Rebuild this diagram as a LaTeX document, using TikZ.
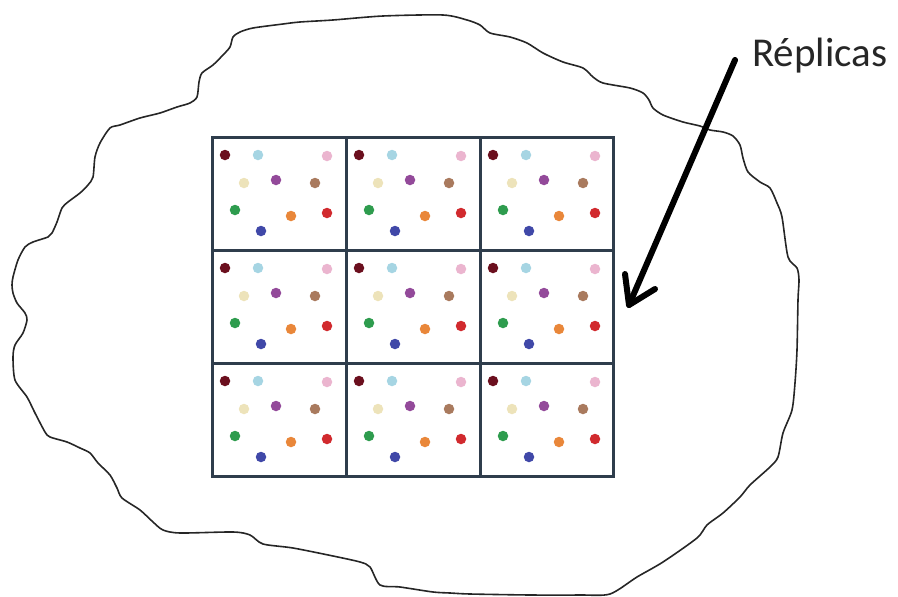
\documentclass[tikz,border=0pt]{standalone}
\usepackage{fontspec}
\setmainfont{Carlito}
\definecolor{gridc}{HTML}{2F3D4C}
\definecolor{cA}{HTML}{6B0F1E}
\definecolor{cB}{HTML}{A6D5E3}
\definecolor{cC}{HTML}{EBB5CF}
\definecolor{cD}{HTML}{EDE3BA}
\definecolor{cE}{HTML}{934A9A}
\definecolor{cF}{HTML}{A97A5E}
\definecolor{cG}{HTML}{2E9C4E}
\definecolor{cH}{HTML}{E9873A}
\definecolor{cI}{HTML}{D12A2E}
\definecolor{cJ}{HTML}{4048A8}
\tikzset{
  gridline/.style={draw=gridc, line width=3pt},
  blob/.style={draw=black!85, line width=1.6pt, line join=round},
  arrowstroke/.style={draw=black, line width=6pt, line cap=round, line join=round},
  dot/.style={circle, inner sep=0pt, minimum size=10.5pt},
  label/.style={font=\fontsize{41}{45}\selectfont, text=black!85, inner sep=0pt, anchor=base west}
}
\begin{document}
\begin{tikzpicture}[x=1pt,y=-1pt]
\useasboundingbox (0,0) rectangle (898,597);
% outline
\draw[blob] plot[smooth cycle, tension=0.45] coordinates {
(240,32) (253,28) (283,24) (300,22) (333,20) (383,16) (443,15) (467,20) (480,25) (490,33)
(510,37) (527,43) (543,53) (563,62) (583,68) (593,77) (603,83) (630,88) (643,93) (649,100)
(653,108) (663,115) (683,122) (700,126) (710,130) (723,132) (733,136) (740,145) (743,158)
(748,172) (760,182) (770,188) (777,203) (782,217) (788,257) (797,268) (799,280) (798,300)
(797,350) (795,383) (792,410) (783,433) (778,457) (770,467) (750,485) (740,497) (723,513)
(707,525) (697,538) (663,562) (637,577) (610,594) (580,595) (530,595) (470,594) (450,593)
(433,592) (400,587) (380,585) (370,567) (360,562) (333,556) (293,548) (263,544) (250,535)
(233,532) (180,533) (163,530) (153,522) (140,510) (122,498) (117,488) (110,475) (98,463)
(90,453) (80,448) (67,442) (50,437) (45,432) (35,413) (27,397) (15,380) (13,357) (15,345)
(23,333) (27,320) (25,313) (17,303) (13,293) (12,285) (13,277) (18,260) (25,247) (33,242)
(48,237) (52,233) (57,222) (62,208) (68,202) (80,193) (88,185) (93,177) (95,157) (100,143)
(110,128) (120,125) (140,118) (160,113) (177,107) (190,103) (197,97) (199,82) (202,73)
(213,65) (223,55) (230,47) (233,37)};
% replicas
\foreach \c in {0,1,2}{
  \foreach \r in {0,1,2}{
    \begin{scope}[shift={(212+134*\c,137+113*\r)}]
      \node[dot, fill=cA] (a\c\r) at (13,18) {};
      \node[dot, fill=cB] (b\c\r) at (46,18) {};
      \node[dot, fill=cC] (p\c\r) at (115,19) {};
      \node[dot, fill=cD] (d\c\r) at (32,46) {};
      \node[dot, fill=cE] (e\c\r) at (64,43) {};
      \node[dot, fill=cF] (f\c\r) at (103,46) {};
      \node[dot, fill=cG] (g\c\r) at (23,73) {};
      \node[dot, fill=cH] (h\c\r) at (79,79) {};
      \node[dot, fill=cI] (i\c\r) at (115,76) {};
      \node[dot, fill=cJ] (j\c\r) at (49,94) {};
    \end{scope}
  }
}
% grid
\draw[gridline] (212,137) rectangle (613,476);
\draw[gridline] (346,137) -- (346,476);
\draw[gridline] (480,137) -- (480,476);
\draw[gridline] (212,250) -- (613,250);
\draw[gridline] (212,363) -- (613,363);
% label and arrow
\node[label] (rep) at (752,66) {Réplicas};
\coordinate (arrstart) at (735,60);
\coordinate (arrtip) at (629,305);
\coordinate (barbL) at (625,274);
\coordinate (barbR) at (655,289);
\draw[arrowstroke] (arrstart) -- (arrtip);
\draw[arrowstroke] (barbL) -- (arrtip) -- (barbR);
\end{tikzpicture}
\end{document}
